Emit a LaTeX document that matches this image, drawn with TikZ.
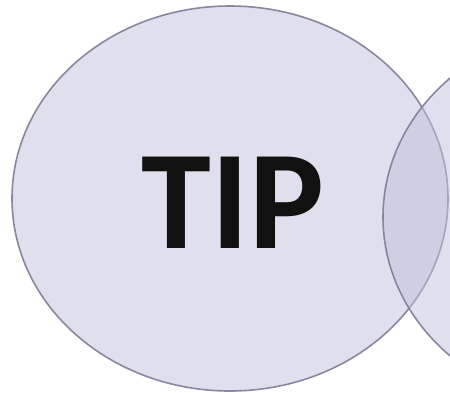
\documentclass[tikz,border=0pt]{standalone}
\usepackage{fontspec}
\newfontfamily\tipfont{Carlito}
\definecolor{bubblefill}{RGB}{193,193,221}
\definecolor{bubbleline}{RGB}{125,125,150}
\definecolor{tipink}{RGB}{17,17,17}
\begin{document}
\begin{tikzpicture}[x=1pt,y=-1pt,
  bubble/.style={fill=bubblefill,fill opacity=0.5,draw=bubbleline,draw opacity=0.9,line width=1.6pt},
  tiptext/.style={inner sep=0pt,text=tipink,font=\tipfont\bfseries\fontsize{141}{141}\selectfont}]
\useasboundingbox (0,0) rectangle (450,392);
\clip (0,0) rectangle (450,392);
\fill[white] (0,0) rectangle (450,392);
\draw[bubble] (230,198.5) ellipse [x radius=218, y radius=192.5];
\node[tiptext] (tip) at (233,202.5) {TIP};
\draw[bubble] (601,217) ellipse [x radius=218, y radius=192.5];
\end{tikzpicture}
\end{document}
